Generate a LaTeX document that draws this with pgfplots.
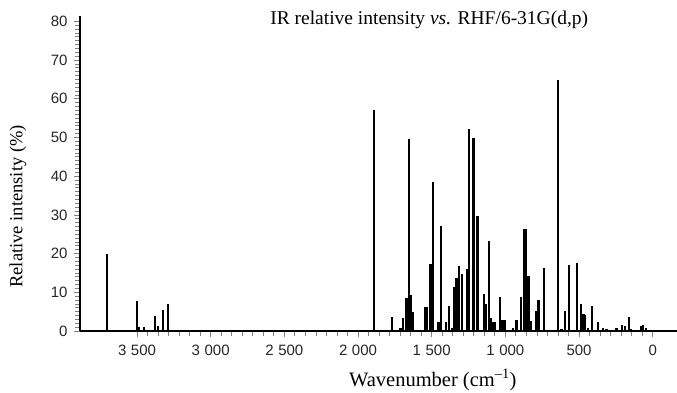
\documentclass[border=0pt]{standalone}
\usepackage{fontspec}
\setmainfont{Liberation Serif}
\newfontfamily\tickfont{Liberation Sans}
\usepackage{pgfplots}
\pgfplotsset{compat=1.18}
\newcommand{\gs}{\hspace{0.3em}}
\begin{document}
\begin{tikzpicture}
\begin{axis}[
  scale only axis,
  width=597pt, height=315.4pt,
  x dir=reverse,
  xmin=-165, xmax=3887,
  ymin=0, ymax=81.5,
  axis x line=bottom, axis y line=left,
  axis line style={line width=1.8pt, -},
  xtick={0,500,1000,1500,2000,2500,3000,3500},
  xticklabels={0,500,1\gs000,1\gs500,2\gs000,2\gs500,3\gs000,3\gs500},
  minor x tick num=6,
  ytick={0,10,...,80},
  minor y tick num=9,
  tick align=outside,
  x tick style={gray, line width=0.8pt},
  y tick style={gray, line width=0.8pt},
  major tick length=6pt, minor tick length=5pt,
  every tick label/.append style={font=\tickfont\fontsize{15}{15}\selectfont, text=black!85},
  xticklabel style={yshift=-4pt},
  yticklabel style={xshift=-3pt},
  /pgf/number format/assume math mode=true,
  xlabel={Wavenumber (cm\textsuperscript{--1})},
  ylabel={Relative intensity (\%)},
  xlabel style={font=\fontsize{20.5}{20.5}\selectfont, at={(rel axis cs:0.591,-0.155)}, anchor=center},
  ylabel style={font=\fontsize{18.5}{18.5}\selectfont, at={(rel axis cs:-0.104,0.395)}, anchor=center},
  clip=false,
]
\addplot[ycomb, line width=2.2pt, black, mark=none] coordinates {
(3706,20.0) (3499,7.8) (3485,1.0) (3451,1.1) (3376,3.8) (3360,1.2) (3322,5.5) (3289,7.0)
(1893,57.1) (1769,3.6) (1712,0.9) (1694,3.3) (1671,8.6) (1653,49.5) (1642,9.3) (1626,5.0)
(1545,6.1) (1535,6.1) (1508,17.2) (1490,38.6) (1454,2.2) (1436,27.1) (1404,2.2) (1382,6.5)
(1364,0.7) (1350,11.5) (1332,13.6) (1314,16.9) (1294,14.7) (1260,15.9) (1248,52.1) (1216,50.0)
(1189,29.8) (1147,9.5) (1131,6.9) (1113,23.3) (1099,3.3) (1083,2.2) (1070,2.2) (1036,8.7)
(1020,2.8) (1002,2.8) (948,0.9) (925,2.8) (896,8.7) (873,26.4) (860,26.4) (843,14.1)
(826,2.6) (789,5.2) (775,8.0) (737,16.2) (645,64.9) (619,0.5) (597,5.2) (570,17.1)
(514,17.7) (488,6.9) (470,4.3) (457,4.1) (439,0.9) (412,6.5) (371,2.2) (337,0.9)
(314,0.5) (246,0.9) (208,1.5) (190,1.4) (161,3.6) (145,0.5) (81,1.4) (66,1.5) (43,0.9)
};
\node[font=\fontsize{19.5}{19.5}\selectfont, anchor=center] at (rel axis cs:0.585,0.985) {IR relative intensity \textit{vs.} RHF/6-31G(d,p)};
\end{axis}
\pgfresetboundingbox
\useasboundingbox (-80pt,-61pt) rectangle (597pt,331pt);
\end{tikzpicture}
\end{document}
